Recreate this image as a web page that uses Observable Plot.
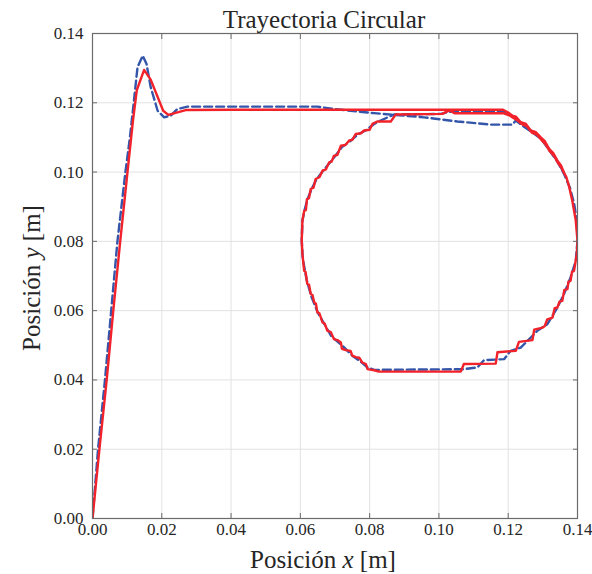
<!DOCTYPE html>
<html><head><meta charset="utf-8">
<script src="https://cdn.jsdelivr.net/npm/d3@7"></script>
<script src="https://cdn.jsdelivr.net/npm/@observablehq/plot@0.6"></script>
<style>html,body{margin:0;padding:0;background:#fff} svg{display:block}</style>
</head><body><div id="chart"></div>
<script>
const titleText = "Trayectoria Circular";
const xLabelParts = ["Posición ", "x", " [m]"];
const yLabelParts = ["Posición ", "y", " [m]"];
const xTicks = [0, 0.02, 0.04, 0.06, 0.08, 0.10, 0.12, 0.14];
const yTicks = [0, 0.02, 0.04, 0.06, 0.08, 0.10, 0.12, 0.14];

// Red (solid) trajectory, in travel order
const redX = [
  0.0000,0.0020,0.0041,0.0060,0.0080,0.0101,0.0117,0.0128,0.0149,0.0168,0.0204,0.0219,0.0269,0.0400,0.0600,0.0800,0.1000,0.1185,
  0.1200,0.1212,0.1222,0.1236,0.1250,0.1265,0.1280,0.1294,0.1305,0.1318,0.1330,0.1342,0.1352,0.1361,0.1368,0.1375,0.1385,0.1395,0.1400,
  0.1398,0.1390,0.1384,0.1380,0.1374,0.1371,0.1362,0.1356,0.1348,0.1342,0.1334,0.1328,0.1313,0.1305,0.1299,0.1275,0.1270,0.1231,0.1222,0.1169,0.1164,0.1072,0.1063,
  0.0827,0.0813,0.0794,0.0789,0.0779,0.0770,0.0760,0.0750,0.0745,0.0731,0.0720,0.0717,0.0707,0.0697,0.0688,0.0678,0.0670,0.0664,0.0655,0.0649,0.0645,0.0640,0.0635,0.0630,0.0625,0.0620,0.0615,0.0611,0.0606,0.0604,
  0.0606,0.0611,0.0616,0.0619,0.0625,0.0630,0.0638,0.0644,0.0655,0.0664,0.0674,0.0683,0.0690,0.0697,0.0707,0.0717,0.0730,0.0741,0.0750,0.0760,0.0775,0.0784,0.0800,0.0808,0.0822,0.0861,0.0875,
  0.1010,0.1030,0.1045,0.1185,
  0.1203,0.1215,0.1226,0.1240,0.1254,0.1268,0.1283,0.1296,0.1308,0.1320,0.1333,0.1344,0.1354,0.1362];
const redY = [
  0.0000,0.0200,0.0400,0.0600,0.0800,0.1000,0.1150,0.1237,0.1295,0.1267,0.1177,0.1165,0.1179,0.1180,0.1180,0.1180,0.1180,0.1180,
  0.1172,0.1163,0.1160,0.1144,0.1140,0.1120,0.1115,0.1100,0.1090,0.1067,0.1055,0.1033,0.1020,0.0999,0.0985,0.0961,0.0917,0.0860,0.0802,
  0.0763,0.0715,0.0712,0.0686,0.0684,0.0662,0.0660,0.0628,0.0626,0.0609,0.0607,0.0580,0.0575,0.0555,0.0551,0.0545,0.0515,0.0510,0.0484,0.0480,0.0447,0.0446,0.0424,
  0.0424,0.0428,0.0431,0.0446,0.0450,0.0464,0.0466,0.0470,0.0484,0.0486,0.0490,0.0508,0.0515,0.0518,0.0538,0.0542,0.0563,0.0566,0.0592,0.0595,0.0620,0.0624,0.0645,0.0648,0.0675,0.0677,0.0712,0.0715,0.0763,0.0802,
  0.0860,0.0888,0.0890,0.0922,0.0925,0.0951,0.0955,0.0980,0.0985,0.1004,0.1008,0.1028,0.1030,0.1047,0.1050,0.1076,0.1078,0.1091,0.1093,0.1110,0.1112,0.1120,0.1122,0.1139,0.1146,0.1146,0.1166,
  0.1168,0.1178,0.1170,0.1170,
  0.1164,0.1156,0.1150,0.1138,0.1132,0.1114,0.1108,0.1093,0.1080,0.1060,0.1046,0.1026,0.1012,0.0995];

// Blue (dashed) trajectory, in travel order
const blueX = [
  0.0000,0.0016,0.0036,0.0054,0.0072,0.0095,0.0108,0.0119,0.0130,0.0145,0.0156,0.0168,0.0188,0.0207,0.0226,0.0245,0.0274,0.0649,0.0697,0.0813,0.0957,0.1053,0.1149,0.1212,0.1222,
  0.1240,0.1265,0.1294,0.1318,0.1342,0.1361,0.1378,0.1390,0.1398,0.1400,0.1395,0.1380,0.1361,0.1342,0.1313,0.1284,0.1265,0.1236,0.1207,0.1188,0.1130,0.1111,0.1072,0.0813,
  0.0794,0.0775,0.0750,0.0720,0.0690,0.0670,0.0650,0.0632,0.0618,0.0607,0.0604,0.0606,0.0612,0.0620,0.0632,0.0646,0.0665,0.0685,0.0700,0.0720,0.0745,0.0765,0.0788,0.0812,0.0830,
  0.0870,0.1005,0.1030,0.1185,0.1215,0.1240,0.1268,0.1296,0.1320,0.1344,0.1362];
const blueY = [
  0.0000,0.0200,0.0400,0.0600,0.0800,0.1000,0.1100,0.1200,0.1303,0.1336,0.1312,0.1245,0.1177,0.1158,0.1163,0.1182,0.1189,0.1189,0.1182,0.1170,0.1158,0.1146,0.1137,0.1137,0.1149,
  0.1135,0.1118,0.1097,0.1064,0.1030,0.0995,0.0955,0.0910,0.0860,0.0802,0.0744,0.0696,0.0648,0.0609,0.0561,0.0542,0.0522,0.0493,0.0484,0.0460,0.0457,0.0436,0.0431,0.0429,
  0.0436,0.0452,0.0470,0.0500,0.0525,0.0560,0.0595,0.0640,0.0690,0.0750,0.0802,0.0860,0.0890,0.0920,0.0950,0.0978,0.1003,0.1027,0.1046,0.1072,0.1090,0.1108,0.1120,0.1138,0.1148,
  0.1166,0.1168,0.1174,0.1175,0.1160,0.1140,0.1117,0.1096,0.1063,0.1029,0.0995];

const red = redX.map((x, i) => ({x, y: redY[i]}));
const blue = blueX.map((x, i) => ({x, y: blueY[i]}));
const fmt = d3.format(".2f");
const axisColor = "#6b6b6b";
const textColor = "#262626";

const chart = Plot.plot({
  width: 592, height: 574,
  marginLeft: 92, marginRight: 15, marginTop: 33, marginBottom: 56,
  style: {fontFamily: "'Liberation Serif', serif", fontSize: "17px", color: textColor, background: "#fff"},
  x: {domain: [0, 0.14], ticks: xTicks, tickFormat: fmt},
  y: {domain: [0, 0.14], ticks: yTicks, tickFormat: fmt},
  marks: [
    Plot.gridX(xTicks, {stroke: "#e2e2e2", strokeOpacity: 1, strokeWidth: 1}),
    Plot.gridY(yTicks, {stroke: "#e2e2e2", strokeOpacity: 1, strokeWidth: 1}),
    Plot.line(blue, {x: "x", y: "y", stroke: "#3456aa", strokeWidth: 2.4, strokeDasharray: "8,4", clip: true}),
    Plot.line(red, {x: "x", y: "y", stroke: "#f2222b", strokeWidth: 2.4, clip: true}),
    Plot.frame({stroke: axisColor, strokeWidth: 1.2}),
    Plot.axisX(xTicks, {anchor: "bottom", tickSize: -5, tickPadding: 9, tickFormat: fmt, label: null, stroke: axisColor, fill: textColor}),
    Plot.axisY(yTicks, {anchor: "left", tickSize: -5, tickPadding: 14, tickFormat: fmt, label: null, stroke: axisColor, fill: textColor}),
    Plot.axisX(xTicks, {anchor: "top", tickSize: -5, tickFormat: () => "", label: null, stroke: axisColor}),
    Plot.axisY(yTicks, {anchor: "right", tickSize: -5, tickFormat: () => "", label: null, stroke: axisColor})
  ]
});

const svg = d3.select(chart);
const serif = "'Liberation Serif', serif";
svg.append("text").attr("x", 324).attr("y", 28).attr("text-anchor", "middle")
  .style("font-family", serif).style("font-size", "25px").attr("fill", textColor).text(titleText);

const xl = svg.append("text").attr("x", 323).attr("y", 568).attr("text-anchor", "middle")
  .style("font-family", serif).style("font-size", "25px").attr("fill", textColor);
xLabelParts.forEach((p, i) => xl.append("tspan").style("font-style", i === 1 ? "italic" : "normal").text(p));

const yl = svg.append("text").attr("transform", "translate(40,278) rotate(-90)").attr("text-anchor", "middle")
  .style("font-family", serif).style("font-size", "25px").attr("fill", textColor);
yLabelParts.forEach((p, i) => yl.append("tspan").style("font-style", i === 1 ? "italic" : "normal").text(p));

svg.style("white-space", "pre");
document.getElementById("chart").appendChild(chart);
</script>
</body></html>
